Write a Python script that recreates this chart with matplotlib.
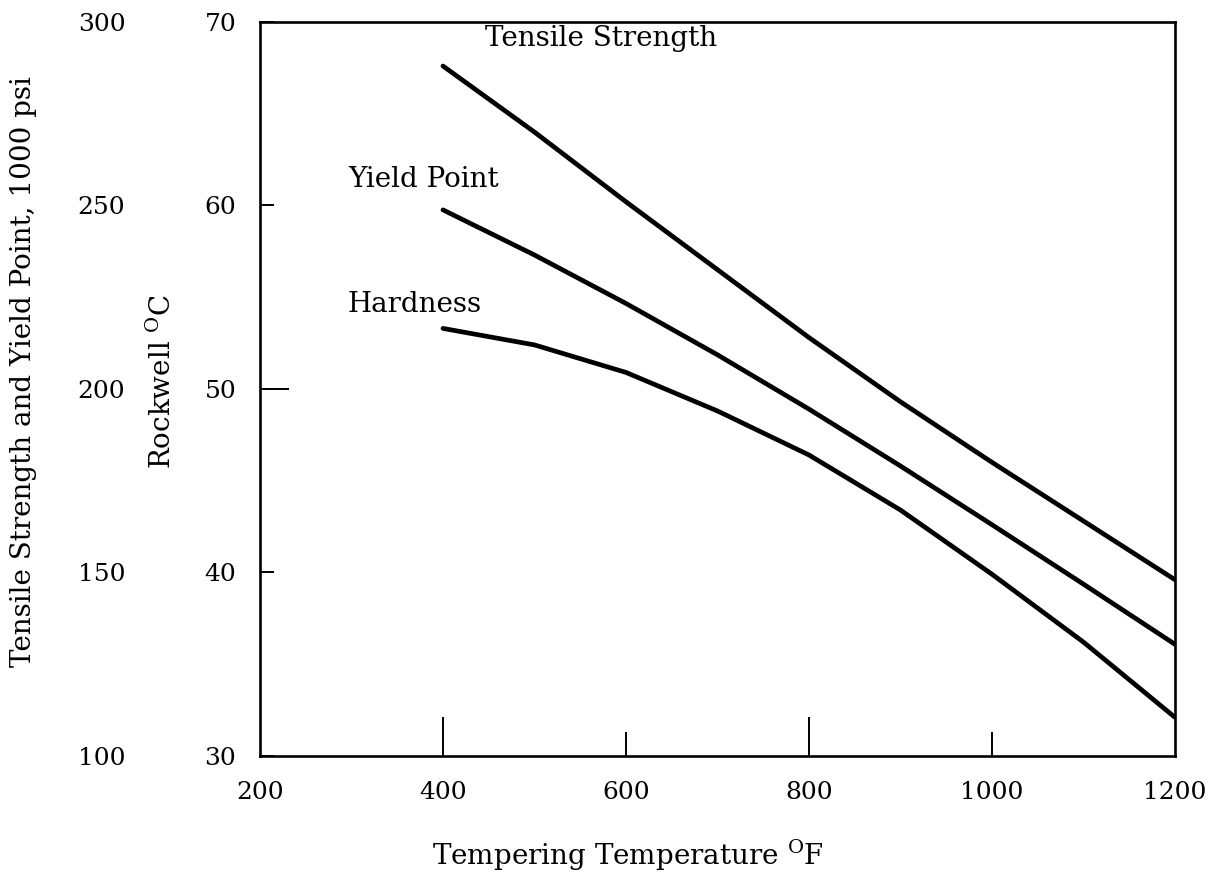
import matplotlib
matplotlib.use("Agg")
import matplotlib.pyplot as plt

plt.rcParams['font.family'] = ['DejaVu Serif']
plt.rcParams['mathtext.fontset'] = 'dejavuserif'

# tempering temperature, deg F
temp_f = [400, 500, 600, 700, 800, 900, 1000, 1100, 1200]
# strengths in 1000 psi
tensile = [288, 270, 251, 232.5, 214, 196.5, 180, 164, 148]
yield_pt = [248.8, 236.5, 223.3, 209.3, 194.5, 179, 163, 146.8, 130.4]
# Rockwell C hardness
hardness = [53.3, 52.4, 50.9, 48.8, 46.4, 43.4, 39.9, 36.2, 32.1]

x_ticks = [200, 400, 600, 800, 1000, 1200]
rockwell_ticks = [30, 40, 50, 60, 70]
psi_ticks = [100, 150, 200, 250, 300]

fs = 18      # tick labels
fs_txt = 20  # titles and curve names
lw_curve = 3.4
curve_kw = dict(color='black', lw=lw_curve, solid_capstyle='round',
                solid_joinstyle='round')

fig = plt.figure(figsize=(12.12, 8.8), dpi=100)
ax = fig.add_axes([0.2145, 0.141, 0.755, 0.834])

ax.plot(temp_f, hardness, **curve_kw)
ax.set_xlim(200, 1200)
ax.set_ylim(30, 70)

for s in ax.spines.values():
    s.set_linewidth(1.9)

# x ticks: long at 400/800, short at 600/1000
ax.xaxis.remove_overlapping_locs = False
ax.set_xticks(x_ticks)
ax.set_xticks([600, 1000], minor=True)
ax.tick_params(axis='x', which='major', direction='in', length=28, width=1.4,
               pad=18, labelsize=fs)
ax.tick_params(axis='x', which='minor', direction='in', length=17, width=1.4)
for t, v in zip(ax.xaxis.get_major_ticks(), x_ticks):
    if v in (200, 600, 1000, 1200):
        t.tick1line.set_visible(False)

# Rockwell ticks: short at 40/60, long at 50
ax.yaxis.remove_overlapping_locs = False
ax.set_yticks(rockwell_ticks)
ax.set_yticks([50], minor=True)
ax.tick_params(axis='y', which='major', direction='in', length=10, width=1.4,
               pad=17, labelsize=fs)
ax.tick_params(axis='y', which='minor', direction='in', length=21, width=1.4)
for t, v in zip(ax.yaxis.get_major_ticks(), rockwell_ticks):
    if v in (30, 50, 70):
        t.tick1line.set_visible(False)

# strength axis shares the frame, labels sit further left
ax_psi = ax.twinx()
ax_psi.plot(temp_f, tensile, **curve_kw)
ax_psi.plot(temp_f, yield_pt, **curve_kw)
ax_psi.set_ylim(100, 300)
ax_psi.set_yticks(psi_ticks)
ax_psi.yaxis.set_ticks_position('left')
ax_psi.yaxis.set_label_position('left')
ax_psi.spines['left'].set_position(('axes', -0.144))
for s in ax_psi.spines.values():
    s.set_visible(False)
ax_psi.tick_params(axis='y', length=0, pad=2, labelsize=fs)

# curve labels
ax.text(446, 69.1, 'Tensile Strength', fontsize=fs_txt, va='center', ha='left')
ax.text(296, 61.4, 'Yield Point', fontsize=fs_txt, va='center', ha='left')
ax.text(296, 54.6, 'Hardness', fontsize=fs_txt, va='center', ha='left')

# axis titles
fig.text(0.134, 0.566, r'Rockwell $^{\rm O}$C', rotation=90, fontsize=fs_txt,
         ha='center', va='center')
fig.text(0.019, 0.578, 'Tensile Strength and Yield Point, 1000 psi',
         rotation=90, fontsize=fs_txt, ha='center', va='center')
fig.text(0.518, 0.028, r'Tempering Temperature $^{\rm O}$F', fontsize=fs_txt,
         ha='center', va='center')

fig.savefig('out.png', dpi=100)
